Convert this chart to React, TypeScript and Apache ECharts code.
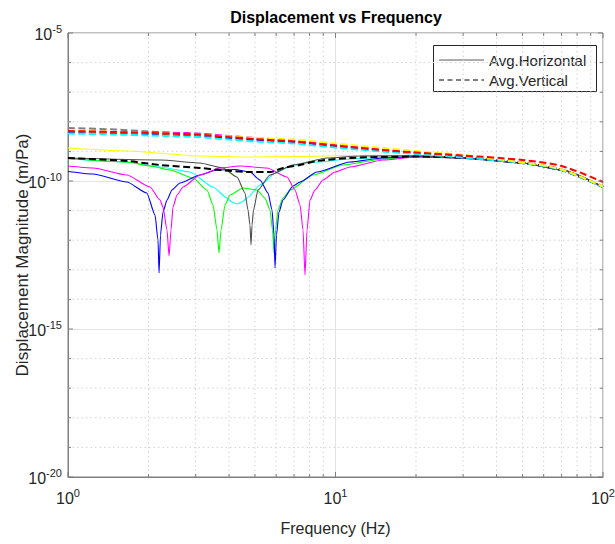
import React, { useEffect, useRef } from "react";
import * as echarts from "echarts";

// ---- axis ticks ----
const X_MAJOR = [1, 10, 100];
const X_MINOR = [2, 3, 4, 5, 6, 7, 8, 9, 20, 30, 40, 50, 60, 70, 80, 90];
const Y_MAJOR = [1e-20, 1e-15, 1e-10, 1e-5];
const Y_MINOR = [1e-19, 1e-18, 1e-17, 1e-16, 1e-14, 1e-13, 1e-12, 1e-11, 1e-9, 1e-8, 1e-7, 1e-6];

// ---- horizontal components (solid) : [frequency Hz, displacement m/Pa] ----
const solidBlue = [
  [1, 2.09e-10], [1.24, 1.72e-10], [1.66, 9.25e-11], [1.97, 3.93e-11], [2.115, 7.1e-12], [2.17, 1.02e-12],
  [2.19, 7.8e-14], [2.217, 1.5e-12], [2.265, 8.97e-12], [2.345, 2.28e-11], [2.448, 4.97e-11], [2.623, 8.56e-11],
  [3.115, 1.6e-10], [3.606, 2.35e-10], [4.211, 2.45e-10], [4.79, 2.01e-10], [5.222, 1.08e-10], [5.594, 3.93e-11],
  [5.79, 1.05e-11], [5.891, 1.5e-12], [5.941, 1.15e-13], [6.018, 1.5e-12], [6.149, 8.97e-12], [6.364, 2.28e-11],
  [6.938, 6.78e-11], [7.37, 9.25e-11], [8.528, 2.01e-10], [11.33, 4.38e-10], [15.05, 5.98e-10], [20.17, 6.73e-10],
  [30, 6.0e-10], [50, 4.06e-10], [70, 2.35e-10], [100, 6.3e-11],
];
const solidMagenta = [
  [1, 3.21e-10], [1.24, 2.75e-10], [1.66, 1.6e-10], [2.026, 6.27e-11], [2.208, 2.28e-11], [2.265, 1.32e-11],
  [2.345, 2.21e-12], [2.386, 2.93e-13], [2.427, 2.21e-12], [2.469, 1.32e-11], [2.556, 3.37e-11], [2.692, 6.27e-11],
  [3.115, 1.6e-10], [3.701, 2.75e-10], [4.395, 3.21e-10], [5.546, 2.75e-10], [6.588, 1.36e-10], [7.058, 4.97e-11],
  [7.37, 1.55e-11], [7.562, 2.21e-12], [7.691, 6.67e-14], [7.826, 2.21e-12], [8.03, 2.28e-11], [8.383, 4.97e-11],
  [8.98, 1.08e-10], [9.957, 2.01e-10], [11.33, 2.97e-10], [15.05, 5.12e-10], [20.17, 6.47e-10],
  [30, 6.0e-10], [50, 4.06e-10], [70, 2.35e-10], [100, 6.3e-11],
];
const solidGreen = [
  [1, 5.75e-10], [1.66, 4.38e-10], [2.026, 3.21e-10], [2.406, 2.35e-10], [2.933, 1.26e-10], [3.308, 4.97e-11],
  [3.484, 1.55e-11], [3.606, 2.21e-12], [3.669, 3.7e-13], [3.733, 2.21e-12], [3.863, 1.55e-11], [4.033, 3.37e-11],
  [4.51, 5.8e-11], [5.088, 4.97e-11], [5.45, 2.67e-11], [5.69, 1.05e-11], [5.815, 2.21e-12], [5.891, 3.7e-13],
  [5.967, 2.21e-12], [6.095, 1.05e-11], [6.364, 2.67e-11], [6.76, 4.97e-11], [8.24, 1.6e-10], [10.67, 3.47e-10],
  [15.05, 5.54e-10], [20.17, 6.47e-10], [30, 6.0e-10], [50, 4.06e-10], [70, 2.35e-10], [100, 6.3e-11],
];
const solidCyan = [
  [1, 5.62e-10], [1.66, 4.38e-10], [2.208, 2.97e-10], [2.858, 2.01e-10], [3.484, 6.27e-11], [3.93, 2.67e-11],
  [4.103, 1.95e-11], [4.283, 1.67e-11], [4.472, 1.95e-11], [4.668, 2.67e-11], [5.222, 7.32e-11], [6.044, 2.01e-10],
  [6.938, 3.47e-10], [8.528, 4.38e-10], [11.33, 5.54e-10], [15.05, 6.22e-10], [20.17, 6.73e-10],
  [30, 6.0e-10], [50, 4.06e-10], [70, 2.35e-10], [100, 6.3e-11],
];
const solidYellow = [
  [1, 1.3e-9], [1.66, 1.03e-9], [3.115, 7.0e-10], [4.79, 6.47e-10], [7.37, 6.73e-10], [11.33, 7.27e-10],
  [20.17, 7.27e-10], [30, 6.22e-10], [50, 4.22e-10], [70, 2.45e-10], [100, 6.52e-11],
];
const avgHorizontal = [
  [1, 5.98e-10], [2.208, 5.12e-10], [3.115, 4.06e-10], [3.797, 2.75e-10], [4.283, 1.36e-10], [4.588, 3.93e-11],
  [4.708, 1.05e-11], [4.79, 3.26e-12], [4.832, 6.89e-13], [4.874, 3.26e-12], [4.937, 1.05e-11], [5.132, 4.97e-11],
  [5.69, 1.6e-10], [6.938, 3.47e-10], [9.295, 5.98e-10], [12.35, 7.0e-10], [20.17, 7.1e-10],
  [30, 6.0e-10], [50, 4.06e-10], [70, 2.35e-10], [100, 6.3e-11],
];
const avgVertical = [
  [1, 5.98e-10], [1.66, 4.74e-10], [2.208, 3.47e-10], [3.115, 2.75e-10], [3.701, 2.35e-10], [4.79, 2.01e-10],
  [5.69, 2.01e-10], [6.364, 2.75e-10], [7.37, 3.47e-10], [8.528, 4.74e-10], [11.33, 5.98e-10], [15.05, 6.47e-10],
  [20.17, 6.73e-10], [30, 6.0e-10], [50, 4.06e-10], [70, 2.35e-10], [100, 6.3e-11],
];

// ---- vertical components (dashed) ----
const DASH_FREQ = [1, 1.5, 2, 3, 4, 5, 7, 10, 15, 20, 30, 50, 70, 100];
const dashedGray = [6.18e-9, 5.49e-9, 4.7e-9, 3.87e-9, 3.1e-9, 2.66e-9, 2.2e-9, 1.6e-9, 1.11e-9, 8.83e-10, 6.47e-10, 4.06e-10, 2.35e-10, 6.27e-11];
const dashedMagenta = [4.7e-9, 4.52e-9, 4.35e-9, 4.02e-9, 3.31e-9, 2.84e-9, 2.33e-9, 1.71e-9, 1.16e-9, 9.18e-10, 6.73e-10, 4.22e-10, 2.45e-10, 6.52e-11];
const dashedBlue = [4.52e-9, 4.18e-9, 3.87e-9, 3.44e-9, 2.84e-9, 2.43e-9, 2.0e-9, 1.46e-9, 1.03e-9, 8.5e-10, 6.47e-10, 4.06e-10, 2.35e-10, 6.27e-11];
const dashedCyan = [4.02e-9, 3.72e-9, 3.44e-9, 3.06e-9, 2.52e-9, 2.16e-9, 1.85e-9, 1.35e-9, 9.9e-10, 8.17e-10, 6.22e-10, 4.06e-10, 2.35e-10, 6.27e-11];
const dashedYellow = [4.89e-9, 4.52e-9, 4.18e-9, 3.72e-9, 3.18e-9, 2.84e-9, 2.52e-9, 1.85e-9, 1.3e-9, 1.03e-9, 7.56e-10, 4.22e-10, 2.45e-10, 6.52e-11];
const dashedRed = [4.89e-9, 4.52e-9, 4.18e-9, 3.72e-9, 3.06e-9, 2.62e-9, 2.16e-9, 1.58e-9, 1.11e-9, 9.18e-10, 7.27e-10, 5.12e-10, 3.21e-10, 9.25e-11];

const FONT = "'Liberation Sans', Arial, Helvetica, sans-serif";
const TXT = "#262626";
const AXIS = "#7f7f7f";

const X_MIN = 1;
const Y_MIN = 1e-20;

function solid(name: string, data: number[][], color: string, width = 1.1) {
  return {
    name, type: "line", data, showSymbol: false, symbol: "none", z: 3,
    smooth: 0.2, smoothMonotone: "x",
    lineStyle: { color, width }, silent: true,
  };
}
function dashed(name: string, values: number[], color: string, width = 2) {
  return {
    name, type: "line", data: DASH_FREQ.map((f, i) => [f, values[i]]), showSymbol: false, symbol: "none", z: 3,
    smooth: 0.3,
    lineStyle: { color, width, type: [7, 3.5] }, silent: true,
  };
}

function xTickSeries(values: number[], grid: boolean, len: number) {
  return {
    type: "custom", silent: true, z: grid ? 1 : 5,
    data: values.map((v) => [v, Y_MIN]),
    renderItem: (params: any, api: any) => {
      const cs = params.coordSys;
      const x = api.coord([api.value(0), api.value(1)])[0];
      const top = cs.y, bottom = cs.y + cs.height;
      const children: any[] = [];
      if (grid) children.push({ type: "line", shape: { x1: x, y1: top, x2: x, y2: bottom }, style: { stroke: "#d2d2d2", lineWidth: 1, lineDash: [1.5, 3] } });
      children.push({ type: "line", shape: { x1: x, y1: bottom, x2: x, y2: bottom - len }, style: { stroke: AXIS, lineWidth: 1 } });
      children.push({ type: "line", shape: { x1: x, y1: top, x2: x, y2: top + len }, style: { stroke: AXIS, lineWidth: 1 } });
      return { type: "group", children };
    },
  };
}
function yTickSeries(values: number[], grid: boolean, len: number) {
  return {
    type: "custom", silent: true, z: grid ? 1 : 5,
    data: values.map((v) => [X_MIN, v]),
    renderItem: (params: any, api: any) => {
      const cs = params.coordSys;
      const y = api.coord([api.value(0), api.value(1)])[1];
      const left = cs.x, right = cs.x + cs.width;
      const children: any[] = [];
      if (grid) children.push({ type: "line", shape: { x1: left, y1: y, x2: right, y2: y }, style: { stroke: "#d2d2d2", lineWidth: 1, lineDash: [1.5, 3] } });
      children.push({ type: "line", shape: { x1: left, y1: y, x2: left + len, y2: y }, style: { stroke: AXIS, lineWidth: 1 } });
      children.push({ type: "line", shape: { x1: right, y1: y, x2: right - len, y2: y }, style: { stroke: AXIS, lineWidth: 1 } });
      return { type: "group", children };
    },
  };
}

const powLabel = (v: number) => `{b|10}{s|${Math.round(Math.log10(v))}}`;
const rich = {
  b: { fontSize: 16, fontFamily: FONT, color: TXT, verticalAlign: "bottom" },
  s: { fontSize: 11, fontFamily: FONT, color: TXT, verticalAlign: "bottom", padding: [0, 0, 8, 0] },
};

export default function App() {
  const ref = useRef<HTMLDivElement>(null);
  useEffect(() => {
    const chart = echarts.init(ref.current!, null, { renderer: "svg" });
    const option: any = {
      animation: false,
      backgroundColor: "#ffffff",
      grid: {
        left: 68, right: 12, top: 33, bottom: 67, show: true, borderColor: AXIS, borderWidth: 1, backgroundColor: "#fff",
        containLabel: false, outerBoundsMode: "none",
      },
      xAxis: {
        type: "log", logBase: 10, min: 1, max: 100, interval: 1,
        name: "Frequency (Hz)", nameLocation: "middle", nameGap: 43, nameMoveOverlap: false,
        nameTextStyle: { fontSize: 16, color: TXT, fontFamily: FONT },
        axisLine: { show: true, lineStyle: { color: AXIS } },
        axisTick: { show: false },
        minorTick: { show: false },
        splitLine: { show: true, lineStyle: { color: "#e3e3e3", width: 1 } },
        axisLabel: { formatter: powLabel, rich, margin: 10 },
      },
      yAxis: {
        type: "log", logBase: 10, min: 1e-20, max: 1e-5, interval: 5, splitNumber: 3,
        name: "Displacement Magnitude (m/Pa)", nameLocation: "middle", nameGap: 37, nameMoveOverlap: false,
        nameTextStyle: { fontSize: 17, color: TXT, fontFamily: FONT },
        axisLine: { show: true, lineStyle: { color: AXIS } },
        axisTick: { show: false },
        splitLine: { show: true, lineStyle: { color: "#e3e3e3", width: 1 } },
        axisLabel: { formatter: powLabel, rich, margin: 6 },
      },
      graphic: [
        { type: "text", x: 336, y: 17, z: 10, style: { text: "Displacement vs Frequency", font: `bold 16px ${FONT}`, fill: "#000", align: "center", verticalAlign: "middle" } },
        {
          type: "group", z: 100, children: [
            { type: "rect", shape: { x: 433.5, y: 45.5, width: 163, height: 46 }, style: { fill: "#fff", stroke: "#262626", lineWidth: 1 } },
            { type: "line", shape: { x1: 439, y1: 60, x2: 484, y2: 60 }, style: { stroke: "#5a5a5a", lineWidth: 1 } },
            { type: "line", shape: { x1: 439, y1: 80, x2: 484, y2: 80 }, style: { stroke: "#000", lineWidth: 1, lineDash: [5, 3.5] } },
            { type: "text", x: 489, y: 60, style: { text: "Avg.Horizontal", font: `15px ${FONT}`, fill: TXT, verticalAlign: "middle" } },
            { type: "text", x: 489, y: 80, style: { text: "Avg.Vertical", font: `15px ${FONT}`, fill: TXT, verticalAlign: "middle" } },
          ],
        },
      ],
      series: [
        xTickSeries(X_MINOR, true, 3),
        xTickSeries(X_MAJOR, false, 5),
        yTickSeries(Y_MINOR, true, 3),
        yTickSeries(Y_MAJOR, false, 5),
        solid("Yellow H", solidYellow, "#ffff00"),
        solid("Cyan H", solidCyan, "#00ffff"),
        solid("Green H", solidGreen, "#00ff00"),
        solid("Blue H", solidBlue, "#0000ff"),
        solid("Magenta H", solidMagenta, "#ff00ff"),
        solid("Avg.Horizontal", avgHorizontal, "#4d4d4d"),
        {
          name: "Avg.Vertical", type: "line", data: avgVertical, showSymbol: false, symbol: "none", z: 3, silent: true,
          smooth: 0.3,
          lineStyle: { color: "#000", width: 2, type: [7, 3.5] },
        },
        dashed("Gray V", dashedGray, "#808080"),
        dashed("Magenta V", dashedMagenta, "#ff00ff"),
        dashed("Blue V", dashedBlue, "#0000ff"),
        dashed("Cyan V", dashedCyan, "#00ffff"),
        dashed("Yellow V", dashedYellow, "#ffff00"),
        dashed("Red V", dashedRed, "#ff0000"),
      ],
    };
    chart.setOption(option);
    return () => chart.dispose();
  }, []);
  return <div ref={ref} style={{ position: "absolute", left: 0, top: 0, width: 615, height: 544, background: "#fff" }} />;
}
